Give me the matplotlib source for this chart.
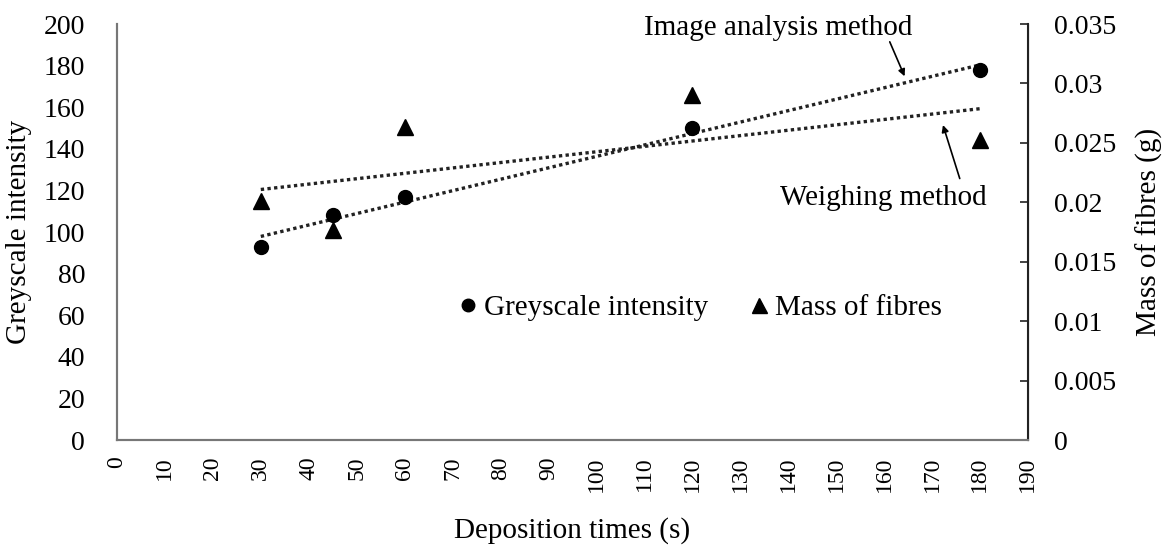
import numpy as np
import matplotlib.pyplot as plt

plt.rcParams['font.family'] = ['Liberation Serif', 'DejaVu Serif']

# data
times = [30, 45, 60, 120, 180]
greyscale = [93, 108, 117, 150, 178]
mass = [0.0201, 0.0177, 0.0263, 0.0290, 0.0252]

x_ticks = list(range(0, 191, 10))
left_ticks = list(range(0, 201, 20))
right_ticks = [0, 0.005, 0.01, 0.015, 0.02, 0.025, 0.03, 0.035]
right_labels = ["0", "0.005", "0.01", "0.015", "0.02", "0.025", "0.03", "0.035"]

fs = 21

fig = plt.figure(figsize=(11.64, 5.53), dpi=100)
ax = fig.add_axes([0.1005, 0.2043, 0.7825, 0.7523])
ax2 = ax.twinx()

# linear trendlines like Excel
t = np.array(times, dtype=float)
fit_g = np.polyfit(t, greyscale, 1)
fit_m = np.polyfit(t, mass, 1)
xt = np.array([times[0], times[-1]], dtype=float)

ax.plot(xt, np.polyval(fit_g, xt), color="#222222", lw=2.4, ls=(0, (1, 1)), zorder=2)
ax2.plot(xt, np.polyval(fit_m, xt), color="#222222", lw=2.4, ls=(0, (1, 1)), zorder=2)

h1, = ax.plot(times, greyscale, "o", color="black", ms=10, ls="none", zorder=3,
              label="Greyscale intensity")
h2, = ax2.plot(times, mass, "^", color="black", ms=12, ls="none", zorder=3,
               label="Mass of fibres")

ax.set_xlim(0, 190)
ax.set_ylim(0, 200)
ax2.set_ylim(0, 0.035)

ax.set_xticks(x_ticks)
ax.set_xticklabels([str(v) for v in x_ticks], rotation=90, fontsize=17)
ax.set_yticks(left_ticks)
ax.set_yticklabels([str(v) for v in left_ticks], fontsize=fs - 1)
ax2.set_yticks(right_ticks)
ax2.set_yticklabels(right_labels, fontsize=fs - 1)

ax.tick_params(axis="y", length=0, pad=23)
ax.tick_params(axis="x", length=0, pad=12)
ax2.tick_params(axis="y", direction="in", length=6, width=1.2, color="#222222", pad=19)

for a in (ax, ax2):
    a.spines["top"].set_visible(False)
    a.spines["left"].set_color("#777777")
    a.spines["bottom"].set_color("#777777")
    a.spines["left"].set_linewidth(1.5)
    a.spines["bottom"].set_linewidth(1.5)
ax2.spines["right"].set_color("#222222")
ax2.spines["right"].set_linewidth(1.5)

ax.set_ylabel("Greyscale intensity", fontsize=fs, labelpad=8)
ax2.set_ylabel("Mass of fibres (g)", fontsize=fs, labelpad=14)
ax.set_xlabel("Deposition times (s)", fontsize=fs, labelpad=18)

ax2.legend(handles=[h1, h2], loc="center", bbox_to_anchor=(0.638, 0.317), ncol=2,
           frameon=False, fontsize=fs, handletextpad=0.1, columnspacing=1.3,
           handlelength=0.9, markerscale=0.9, borderpad=0)

ax2.text(137.9, 0.03466, "Image analysis method", fontsize=fs, ha="center", va="center")
ax2.annotate("", xy=(164.3, 0.0306), xytext=(161.2, 0.0335),
             arrowprops=dict(arrowstyle="-|>", color="black", lw=1.2, shrinkA=0, shrinkB=0,
                             mutation_scale=10))
ax2.text(159.8, 0.0204, "Weighing method", fontsize=fs, ha="center", va="center")
ax2.annotate("", xy=(172.3, 0.0265), xytext=(175.8, 0.0220),
             arrowprops=dict(arrowstyle="-|>", color="black", lw=1.2, shrinkA=0, shrinkB=0,
                             mutation_scale=10))

fig.savefig("out.png", dpi=100)
